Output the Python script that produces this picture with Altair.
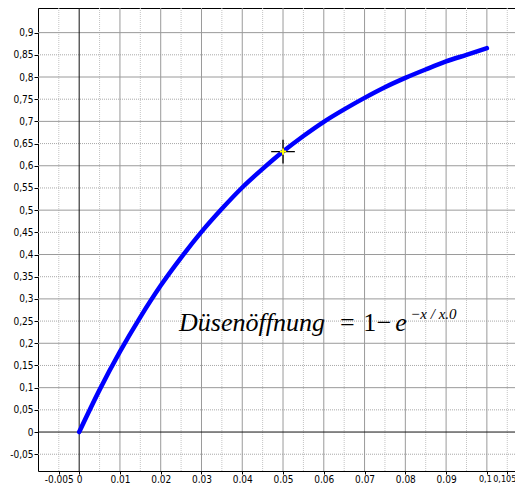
import altair as alt
import pandas as pd

# Curve
curve_x = [0, 0.005, 0.01, 0.015, 0.02, 0.025, 0.03, 0.035, 0.04, 0.045, 0.05,
           0.055, 0.06, 0.065, 0.07, 0.075, 0.08, 0.085, 0.09, 0.095, 0.1]
curve_y = [0, 0.095, 0.181, 0.259, 0.330, 0.393, 0.451, 0.503, 0.551, 0.593, 0.632,
           0.667, 0.699, 0.727, 0.753, 0.777, 0.798, 0.817, 0.835, 0.850, 0.865]

# marked point
marker_x = [0.05]
marker_y = [0.632]

# grid / ticks
x_major = [0.01, 0.02, 0.03, 0.04, 0.05, 0.06, 0.07, 0.08, 0.09, 0.1]
x_minor = [-0.005, 0.005, 0.015, 0.025, 0.035, 0.045, 0.055, 0.065, 0.075, 0.085, 0.095, 0.105]
y_major = [0.1, 0.2, 0.3, 0.4, 0.5, 0.6, 0.7, 0.8, 0.9]
y_minor = [-0.05, 0.05, 0.15, 0.25, 0.35, 0.45, 0.55, 0.65, 0.75, 0.85]
x_ticks = [-0.005, 0, 0.01, 0.02, 0.03, 0.04, 0.05, 0.06, 0.07, 0.08, 0.09, 0.1, 0.105]
y_ticks = [-0.05, 0, 0.05, 0.1, 0.15, 0.2, 0.25, 0.3, 0.35, 0.4, 0.45, 0.5, 0.55,
           0.6, 0.65, 0.7, 0.75, 0.8, 0.85, 0.9]
zero = [0]

# formula annotation pieces
formula_main_italic = ["Düsenöffnung", "e"]
formula_main_italic_x = [0.0245, 0.0775]
formula_main_italic_y = [0.227, 0.227]
formula_upright = ["=", "1", "−"]
formula_upright_x = [0.0640, 0.0697, 0.0730]
formula_upright_y = [0.227, 0.227, 0.227]
formula_sup = ["−x / x.0"]
formula_sup_x = [0.0812]
formula_sup_y = [0.255]

X_DOMAIN = [-0.0101, 0.1069]
Y_DOMAIN = [-0.0878, 0.9555]

LABEL_FONT = "Liberation Sans Narrow, DejaVu Sans Condensed, Liberation Sans"
label_expr = "replace(toString(datum.value), '.', ',')"
x_axis = alt.Axis(values=x_ticks, labelExpr=label_expr, grid=False, domain=False,
                  tickColor="black", tickSize=3, labelPadding=0, labelColor="black",
                  labelFont=LABEL_FONT, title=None,
                  labelOverlap=False, labelFlush=False,
                  labelFontSize={"condition": {"test": "datum.value > 0.098", "value": 9},
                                 "value": 10},
                  labelOffset={"condition": [{"test": "datum.value > 0.102", "value": -3},
                                             {"test": "datum.value > 0.098", "value": -2}],
                               "value": 0})
y_axis = alt.Axis(values=y_ticks, labelExpr=label_expr, grid=False, domain=False,
                  tickColor="black", tickSize=4, labelPadding=1, labelColor="black",
                  labelFont=LABEL_FONT, labelFontSize=10, title=None,
                  labelOverlap=False, labelFlush=False)
xs = alt.Scale(domain=X_DOMAIN, nice=False, zero=False)
ys = alt.Scale(domain=Y_DOMAIN, nice=False, zero=False)

def X():
    return alt.X("x:Q", scale=xs, axis=x_axis)

def Y():
    return alt.Y("y:Q", scale=ys, axis=y_axis)

curve_df = pd.DataFrame({"x": curve_x, "y": curve_y})

vminor = alt.Chart(pd.DataFrame({"x": x_minor})).mark_rule(
    color="#c4c4c4", strokeWidth=1, strokeDash=[1, 1]).encode(x=X())
hminor = alt.Chart(pd.DataFrame({"y": y_minor})).mark_rule(
    color="#a8a8a8", strokeWidth=1, strokeDash=[1, 1]).encode(y=Y())
vmajor = alt.Chart(pd.DataFrame({"x": x_major})).mark_rule(
    color="#9a9a9a", strokeWidth=1).encode(x=X())
hmajor = alt.Chart(pd.DataFrame({"y": y_major})).mark_rule(
    color="#9a9a9a", strokeWidth=1).encode(y=Y())
vzero = alt.Chart(pd.DataFrame({"x": zero})).mark_rule(
    color="#111111", strokeWidth=1).encode(x=X())
hzero = alt.Chart(pd.DataFrame({"y": zero})).mark_rule(
    color="#111111", strokeWidth=1).encode(y=Y())

curve = alt.Chart(curve_df).mark_line(
    color="#0000ff", strokeWidth=4.5, interpolate="monotone", strokeCap="round").encode(
    x=X(), y=Y())

mdf = pd.DataFrame({"x": marker_x, "y": marker_y})
cross_path = "M-1,0L1,0M0,-1L0,1"
mark_black = alt.Chart(mdf).mark_point(
    shape=cross_path, size=560, stroke="black", strokeWidth=1.3, filled=False, opacity=1).encode(
    x=X(), y=Y())
mark_yellow = alt.Chart(mdf).mark_point(
    shape=cross_path, size=40, stroke="#ffff00", strokeWidth=2, filled=False, opacity=1).encode(
    x=X(), y=Y())

t_it = alt.Chart(pd.DataFrame({"x": formula_main_italic_x, "y": formula_main_italic_y,
                               "t": formula_main_italic})).mark_text(
    font="Liberation Serif", fontStyle="italic", fontSize=26, align="left",
    baseline="alphabetic", color="black").encode(x=X(), y=Y(), text="t:N")
t_up = alt.Chart(pd.DataFrame({"x": formula_upright_x, "y": formula_upright_y,
                               "t": formula_upright})).mark_text(
    font="Liberation Serif", fontSize=26, align="left",
    baseline="alphabetic", color="black").encode(x=X(), y=Y(), text="t:N")
t_sup = alt.Chart(pd.DataFrame({"x": formula_sup_x, "y": formula_sup_y,
                                "t": formula_sup})).mark_text(
    font="Liberation Serif", fontStyle="italic", fontSize=15, align="left",
    baseline="alphabetic", color="black").encode(x=X(), y=Y(), text="t:N")

chart = alt.layer(vminor, hminor, vmajor, hmajor, vzero, hzero, curve,
                  mark_black, mark_yellow, t_it, t_up, t_sup).properties(
    width=477, height=463,
    padding={"left": 30, "top": 0, "right": 0, "bottom": 12},
    autosize=alt.AutoSizeParams(type="none"),
    background="white",
).configure_view(stroke="black", strokeWidth=1)

chart.save("out.html", embed_options={"renderer": "svg", "actions": False})
